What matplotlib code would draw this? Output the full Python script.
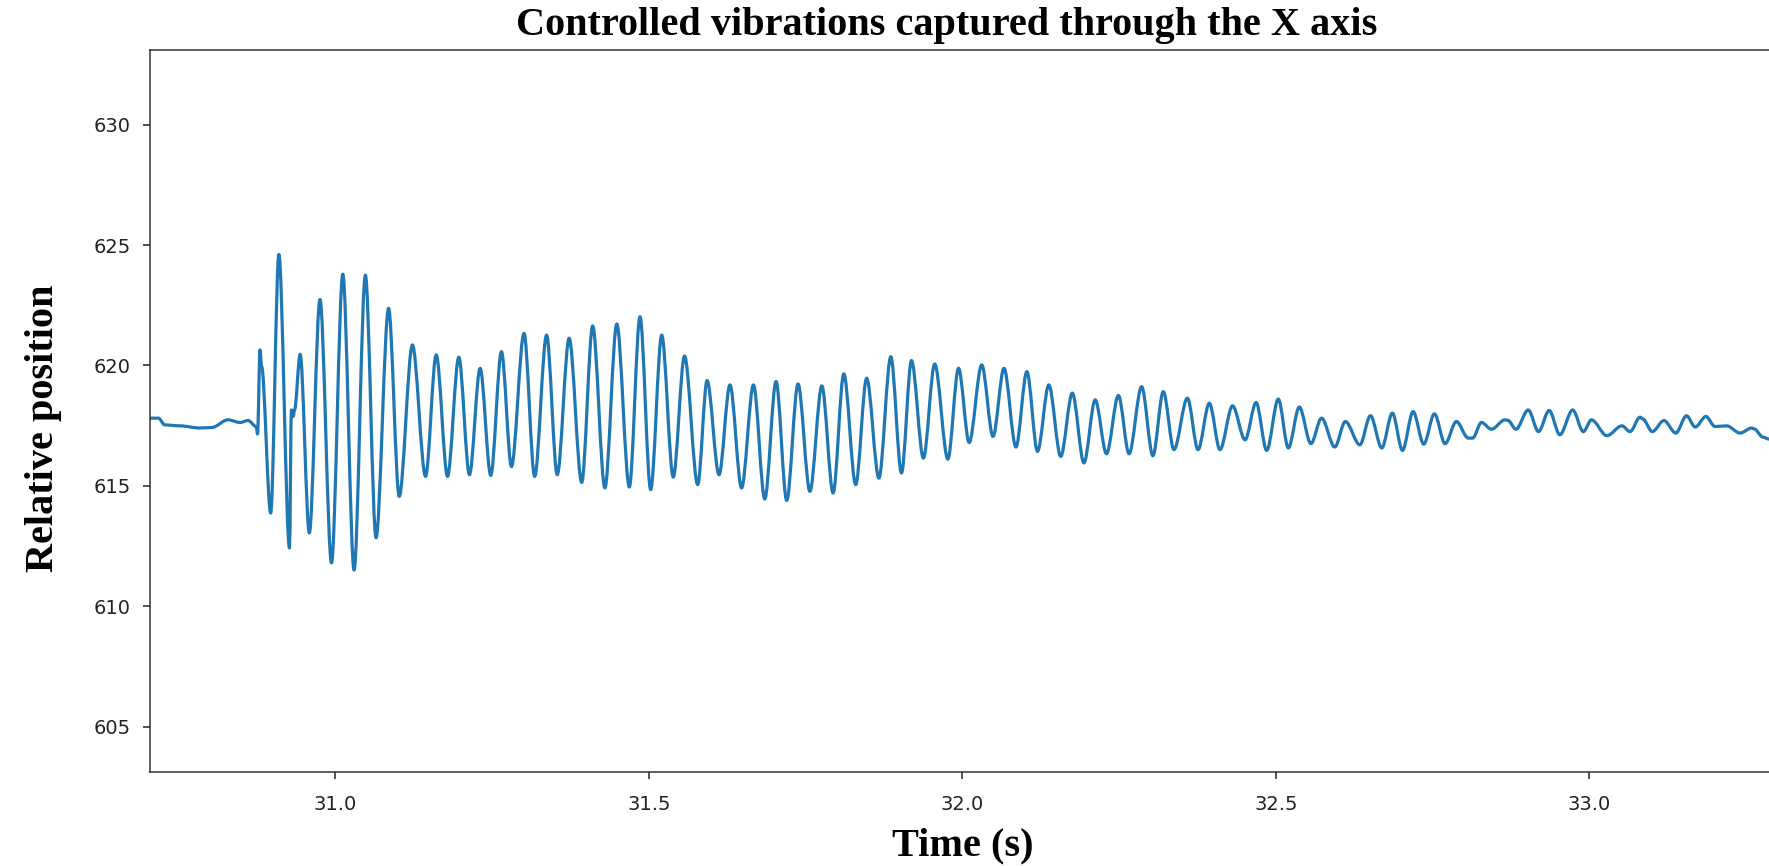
"""
Vibration test plot: relative position of the tracked point along the X axis
over time, after a controlled excitation.
"""

import numpy as np
import matplotlib.pyplot as plt
from matplotlib.path import Path
from matplotlib.patches import PathPatch

# Time stamps (s) and relative position readings of the tracked point
time_s = [
    30.7045, 30.718, 30.728, 30.752, 30.784, 30.803, 30.829, 30.848, 30.861, 30.874,
    30.876, 30.880, 30.8825, 30.897, 30.910, 30.927, 30.930, 30.933, 30.935, 30.944,
    30.9586, 30.9756, 30.994, 31.012, 31.030, 31.048, 31.065, 31.085, 31.102, 31.123,
    31.144, 31.161, 31.179, 31.197, 31.214, 31.231, 31.248, 31.265, 31.281, 31.301,
    31.318, 31.337, 31.354, 31.373, 31.393, 31.4105, 31.430, 31.449, 31.469, 31.486,
    31.503, 31.5206, 31.539, 31.557, 31.578, 31.593, 31.612, 31.6295, 31.648, 31.667,
    31.685, 31.703, 31.720, 31.738, 31.757, 31.776, 31.794, 31.811, 31.830, 31.8475,
    31.867, 31.886, 31.903, 31.919, 31.938, 31.956, 31.977, 31.994, 32.011, 32.031,
    32.049, 32.0665, 32.0856, 32.103, 32.120, 32.138, 32.157, 32.1755, 32.194, 32.212,
    32.230, 32.249, 32.266, 32.286, 32.304, 32.3206, 32.3376, 32.359, 32.376, 32.394,
    32.411, 32.431, 32.451, 32.4686, 32.4855, 32.504, 32.520, 32.5375, 32.556, 32.573,
    32.594, 32.611, 32.634, 32.651, 32.669, 32.686, 32.702, 32.719, 32.736, 32.753,
    32.770, 32.788, 32.807, 32.814, 32.828, 32.844, 32.8655, 32.870, 32.883, 32.9027,
    32.919, 32.936, 32.953, 32.9735, 32.9905, 33.0035, 33.028, 33.052, 33.065, 33.081,
    33.085, 33.1005, 33.119, 33.138, 33.155, 33.169, 33.186, 33.2005, 33.219, 33.2405,
    33.259, 33.263, 33.277, 33.2866,
]

position = [
    617.81, 617.81, 617.53, 617.49, 617.40, 617.42, 617.74, 617.63, 617.71, 617.46,
    617.15, 620.64, 619.95, 613.87, 624.61, 612.42, 618.15, 617.88, 618.15, 620.46,
    613.04, 622.74, 611.80, 623.79, 611.50, 623.75, 612.84, 622.37, 614.56, 620.85,
    615.39, 620.44, 615.39, 620.34, 615.46, 619.88, 615.43, 620.57, 615.80, 621.33,
    615.39, 621.26, 615.46, 621.13, 615.14, 621.64, 614.91, 621.72, 614.95, 622.02,
    614.84, 621.26, 615.36, 620.39, 615.05, 619.37, 615.46, 619.19, 614.91, 619.19,
    614.45, 619.33, 614.39, 619.23, 614.77, 619.15, 614.70, 619.65, 615.05, 619.47,
    615.32, 620.36, 615.53, 620.20, 616.15, 620.06, 616.11, 619.88, 616.80, 620.02,
    617.05, 619.88, 616.61, 619.74, 616.43, 619.19, 616.22, 618.85, 615.95, 618.57,
    616.33, 618.75, 616.33, 619.12, 616.25, 618.91, 616.50, 618.64, 616.50, 618.43,
    616.50, 618.32, 616.91, 618.46, 616.47, 618.60, 616.57, 618.27, 616.75, 617.81,
    616.61, 617.67, 616.70, 617.91, 616.57, 618.02, 616.47, 618.08, 616.73, 617.99,
    616.75, 617.67, 616.98, 616.98, 617.63, 617.35, 617.74, 617.72, 617.35, 618.15,
    617.25, 618.13, 617.12, 618.15, 617.25, 617.74, 617.08, 617.49, 617.25, 617.85,
    617.78, 617.25, 617.71, 617.19, 617.91, 617.44, 617.88, 617.46, 617.49, 617.19,
    617.40, 617.36, 617.02, 616.94,
]

x_ticks = [31.0, 31.5, 32.0, 32.5, 33.0]
y_ticks = [605, 610, 615, 620, 625, 630]


# Smooth trace through the readings: cubic segments with flat tangents at each reading
def smooth_trace(t, pos, k=0.33):

    verts = [(t[0], pos[0])]
    codes = [Path.MOVETO]
    for i in range(1, len(t)):
        dt = t[i] - t[i - 1]
        verts += [(t[i - 1] + k * dt, pos[i - 1]), (t[i] - k * dt, pos[i]), (t[i], pos[i])]
        codes += [Path.CURVE4] * 3
    return Path(verts, codes)


def plot_vibration(t, pos):

    fig = plt.figure(figsize=(17.69, 8.66), dpi=100)
    ax = fig.add_axes([150 / 1769, 1 - 772.3 / 866, 1 - 150 / 1769, (772.3 - 50) / 866])

    trace = PathPatch(smooth_trace(t, pos), facecolor="none", edgecolor="#1f77b4",
                      linewidth=2.3, joinstyle="round", capstyle="round")
    ax.add_patch(trace)

    # Axis limits and ticks
    ax.set_xlim(30.7045, 33.2866)
    ax.set_ylim(603.1, 633.1)
    ax.set_xticks(x_ticks)
    ax.set_xticklabels([f"{v:.1f}" for v in x_ticks])
    ax.set_yticks(y_ticks)
    ax.tick_params(labelsize=14, length=5, width=1.1, color="#222222",
                   labelcolor="#222222")
    ax.tick_params(axis="x", pad=11)
    ax.tick_params(axis="y", pad=9)

    for side in ["left", "bottom", "top"]:
        ax.spines[side].set_linewidth(1.1)
        ax.spines[side].set_color("#333333")
    ax.spines["right"].set_visible(False)

    # Title and axis labels in bold serif
    label_font = dict(family="Liberation Serif", weight="bold", fontsize=29)
    fig.text(947 / 1769, 1 - 25 / 866, "Controlled vibrations captured through the X axis",
             ha="center", va="center", **label_font)
    fig.text(963 / 1769, 1 - 846 / 866, "Time (s)", ha="center", va="center", **label_font)
    fig.text(44 / 1769, 1 - 428.6 / 866, "Relative position", ha="center", va="center",
             rotation=90, **label_font)

    fig.savefig("out.png", dpi=100)


def main():
    plot_vibration(np.array(time_s), np.array(position))


if __name__ == "__main__":
    main()
